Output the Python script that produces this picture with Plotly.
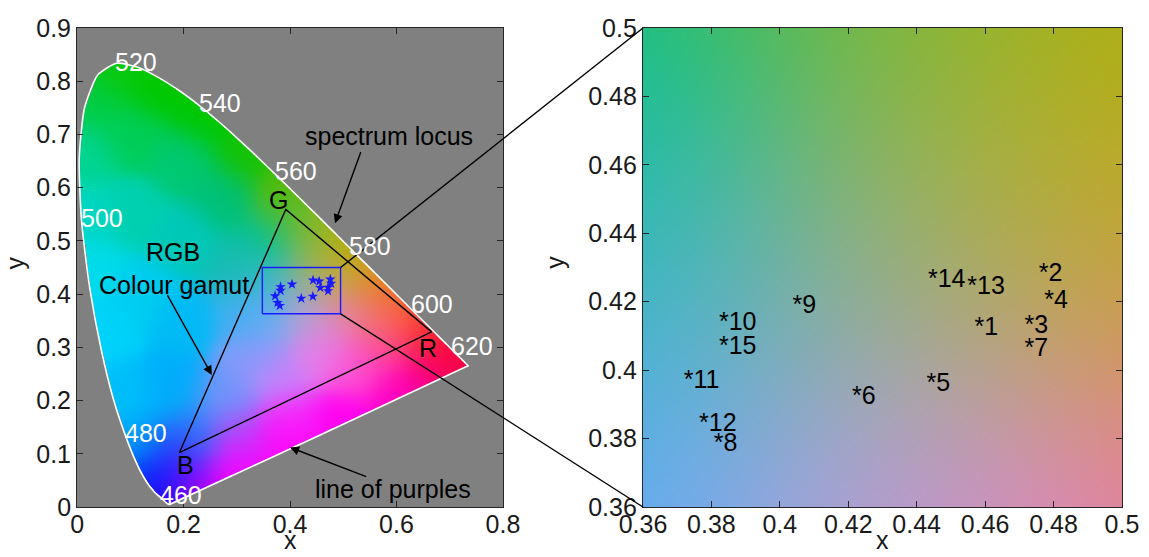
import numpy as np
import plotly.graph_objects as go

# ---------------- data ----------------
# CIE 1931 2-degree spectral locus (5 nm steps, 380-700 nm)
loc_x = [0.1741, 0.1740, 0.1738, 0.1736, 0.1733, 0.1730, 0.1726, 0.1721, 0.1714, 0.1703,
         0.1689, 0.1669, 0.1644, 0.1611, 0.1566, 0.1510, 0.1440, 0.1355, 0.1241, 0.1096,
         0.0913, 0.0687, 0.0454, 0.0235, 0.0082, 0.0039, 0.0139, 0.0389, 0.0743, 0.1142,
         0.1547, 0.1929, 0.2296, 0.2658, 0.3016, 0.3373, 0.3731, 0.4087, 0.4441, 0.4788,
         0.5125, 0.5448, 0.5752, 0.6029, 0.6270, 0.6482, 0.6658, 0.6801, 0.6915, 0.7006,
         0.7079, 0.7140, 0.7190, 0.7230, 0.7260, 0.7283, 0.7300, 0.7311, 0.7320, 0.7327,
         0.7334, 0.7340, 0.7344, 0.7346, 0.7347]
loc_y = [0.0050, 0.0050, 0.0049, 0.0049, 0.0048, 0.0048, 0.0048, 0.0048, 0.0051, 0.0058,
         0.0069, 0.0086, 0.0109, 0.0138, 0.0177, 0.0227, 0.0297, 0.0399, 0.0578, 0.0868,
         0.1327, 0.2007, 0.2950, 0.4127, 0.5384, 0.6548, 0.7502, 0.8120, 0.8338, 0.8262,
         0.8059, 0.7816, 0.7543, 0.7243, 0.6923, 0.6589, 0.6245, 0.5896, 0.5547, 0.5202,
         0.4866, 0.4544, 0.4242, 0.3965, 0.3725, 0.3514, 0.3340, 0.3197, 0.3083, 0.2993,
         0.2920, 0.2859, 0.2809, 0.2770, 0.2740, 0.2717, 0.2700, 0.2689, 0.2680, 0.2673,
         0.2666, 0.2660, 0.2656, 0.2654, 0.2653]

# wavelength labels
wl_text = ["520", "540", "560", "580", "600", "620", "500", "480", "460"]
wl_x = [0.110, 0.268, 0.412, 0.551, 0.666, 0.742, 0.046, 0.129, 0.196]
wl_y = [0.837, 0.760, 0.631, 0.491, 0.381, 0.303, 0.543, 0.139, 0.023]

# RGB gamut primaries (R, G, B) and their labels
gam_x = [0.666, 0.392, 0.192]
gam_y = [0.329, 0.559, 0.102]
gam_text = ["R", "G", "B"]
gam_lab_x = [0.660, 0.378, 0.204]
gam_lab_y = [0.298, 0.576, 0.078]

# measured chromaticities
pt_id = list(range(1, 16))
pt_x = [0.4569, 0.4757, 0.4715, 0.4773, 0.4429, 0.4211, 0.4715, 0.3807,
        0.4037, 0.3822, 0.3719, 0.3764, 0.4548, 0.4433, 0.3822]
pt_y = [0.4121, 0.4279, 0.4126, 0.4201, 0.3956, 0.3920, 0.4060, 0.3783,
        0.4185, 0.4136, 0.3965, 0.3840, 0.4240, 0.4261, 0.4066]

# zoom rectangle as drawn on the left panel
rect_x = [0.348, 0.495]
rect_y = [0.363, 0.450]

# zoomed panel range
zoom_rng = [0.36, 0.50]
zoom_ticks = [0.36, 0.38, 0.40, 0.42, 0.44, 0.46, 0.48, 0.50]
zoom_ticktext = ["0.36", "0.38", "0.4", "0.42", "0.44", "0.46", "0.48", "0.5"]
left_xticks = [0, 0.2, 0.4, 0.6, 0.8]
left_xticktext = ["0", "0.2", "0.4", "0.6", "0.8"]
left_yticks = [0, 0.1, 0.2, 0.3, 0.4, 0.5, 0.6, 0.7, 0.8, 0.9]
left_yticktext = ["0", "0.1", "0.2", "0.3", "0.4", "0.5", "0.6", "0.7", "0.8", "0.9"]

# text annotations (black)
note_text = ["spectrum locus", "RGB", "Colour gamut", "line of purples"]
note_x = [0.586, 0.180, 0.182, 0.594]
note_y = [0.697, 0.480, 0.418, 0.033]

# arrows: tip and tail
arr_tip_x = [0.4845, 0.253, 0.400]
arr_tip_y = [0.533, 0.248, 0.112]
arr_tail_x = [0.534, 0.168, 0.546]
arr_tail_y = [0.670, 0.401, 0.056]

# colour anchors (x, y, r, g, b)
anc_x = [0.075, 0.15, 0.24, 0.32, 0.39, 0.45, 0.51, 0.56, 0.61, 0.66, 0.71,
         0.035, 0.015, 0.015, 0.025, 0.05, 0.085, 0.12, 0.145, 0.165,
         0.22, 0.30, 0.40, 0.50, 0.60, 0.66,
         0.10, 0.10, 0.20, 0.20, 0.28, 0.30, 0.12, 0.20, 0.18, 0.22, 0.19,
         0.28, 0.33, 0.38, 0.30, 0.40, 0.46, 0.52, 0.58, 0.56,
         0.36, 0.43, 0.50, 0.36, 0.43, 0.50, 0.36, 0.43, 0.50, 0.31, 0.47, 0.40]
anc_y = [0.82, 0.79, 0.73, 0.66, 0.59, 0.53, 0.47, 0.42, 0.37, 0.32, 0.275,
         0.76, 0.66, 0.55, 0.45, 0.33, 0.21, 0.12, 0.06, 0.02,
         0.035, 0.07, 0.11, 0.16, 0.21, 0.24,
         0.70, 0.55, 0.65, 0.50, 0.58, 0.45, 0.40, 0.35, 0.22, 0.13, 0.09,
         0.20, 0.28, 0.24, 0.13, 0.16, 0.29, 0.26, 0.30, 0.36,
         0.50, 0.50, 0.50, 0.43, 0.43, 0.43, 0.36, 0.36, 0.36, 0.37, 0.47, 0.55]
anc_r = [10, 0, 0, 20, 90, 160, 200, 230, 250, 250, 245,
         0, 0, 0, 0, 0, 0, 0, 0, 30,
         190, 250, 255, 255, 255, 250,
         0, 0, 0, 0, 0, 20, 0, 0, 0, 40, 60,
         110, 130, 200, 190, 245, 230, 255, 255, 240,
         0, 100, 168, 60, 145, 205, 110, 182, 228, 60, 172, 80]
anc_g = [200, 200, 200, 195, 185, 180, 165, 130, 90, 40, 0,
         205, 212, 215, 220, 210, 190, 165, 40, 0,
         0, 0, 0, 0, 0, 0,
         205, 208, 200, 200, 192, 188, 205, 185, 172, 130, 30,
         150, 155, 130, 60, 40, 125, 80, 70, 120,
         195, 185, 180, 183, 173, 162, 172, 160, 130, 175, 178, 188]
anc_b = [10, 0, 0, 0, 0, 0, 0, 20, 40, 50, 60,
         70, 145, 195, 235, 250, 250, 250, 250, 250,
         250, 255, 250, 240, 200, 130,
         85, 175, 115, 185, 120, 175, 240, 245, 250, 250, 250,
         250, 250, 250, 250, 250, 235, 210, 150, 120,
         145, 105, 0, 198, 150, 100, 245, 212, 172, 240, 60, 60]

GRAY = 128


def colour_field(X, Y, sigma=0.037):
    ax = np.array(anc_x)
    ay = np.array(anc_y)
    cols = np.stack([anc_r, anc_g, anc_b], axis=1).astype(float)
    out = np.zeros(X.shape + (3,))
    for i in range(X.shape[0]):
        d2 = (X[i][:, None] - ax[None, :]) ** 2 + (Y[i][:, None] - ay[None, :]) ** 2
        w = np.exp(-d2 / (2 * sigma ** 2)) + 1e-300
        w = w / w.sum(axis=1, keepdims=True)
        out[i] = w @ cols
    return np.clip(out, 0, 255)


def inside_polygon(px, py, vx, vy):
    res = np.zeros(px.shape, dtype=bool)
    n = len(vx)
    j = n - 1
    for i in range(n):
        xi, yi, xj, yj = vx[i], vy[i], vx[j], vy[j]
        if yi != yj:
            cond = ((yi > py) != (yj > py)) & (px < (xj - xi) * (py - yi) / (yj - yi) + xi)
            res ^= cond
        j = i
    return res


# left image
step = 0.002
xs = np.arange(0, 0.8 + 1e-9, step)
ys = np.arange(0, 0.9 + 1e-9, step)
XX, YY = np.meshgrid(xs, ys)
img_left = colour_field(XX, YY)
mask = inside_polygon(XX, YY, loc_x, loc_y)
img_left[~mask] = GRAY
img_left = np.round(img_left).astype(int)

# right image
zstep = 0.0005
zxs = np.arange(zoom_rng[0], zoom_rng[1] + 1e-9, zstep)
zys = np.arange(zoom_rng[0], zoom_rng[1] + 1e-9, zstep)
ZX, ZY = np.meshgrid(zxs, zys)
img_right = np.round(colour_field(ZX, ZY)).astype(int)

FONT = "Liberation Sans, Arial, sans-serif"
FS = 25
TXT = "#1a1a1a"

fig = go.Figure()
fig.add_trace(go.Image(z=img_left.tolist(), x0=float(xs[0]), dx=step, y0=float(ys[0]), dy=step,
                       xaxis="x", yaxis="y", hoverinfo="skip"))
fig.add_trace(go.Image(z=img_right.tolist(), x0=float(zxs[0]), dx=zstep, y0=float(zys[0]), dy=zstep,
                       xaxis="x2", yaxis="y2", hoverinfo="skip"))

# spectrum locus outline (closed with line of purples)
fig.add_trace(go.Scatter(x=loc_x + [loc_x[0]], y=loc_y + [loc_y[0]], mode="lines",
                         line=dict(color="white", width=1.6, shape="spline", smoothing=0.6),
                         xaxis="x", yaxis="y", showlegend=False, hoverinfo="skip"))
# gamut triangle
fig.add_trace(go.Scatter(x=gam_x + [gam_x[0]], y=gam_y + [gam_y[0]], mode="lines",
                         line=dict(color="black", width=1.4), xaxis="x", yaxis="y",
                         showlegend=False, hoverinfo="skip"))
# zoom rectangle
fig.add_trace(go.Scatter(x=[rect_x[0], rect_x[1], rect_x[1], rect_x[0], rect_x[0]],
                         y=[rect_y[0], rect_y[0], rect_y[1], rect_y[1], rect_y[0]],
                         mode="lines", line=dict(color="#1a1aff", width=1.4),
                         xaxis="x", yaxis="y", showlegend=False, hoverinfo="skip"))
# stars on left panel
fig.add_trace(go.Scatter(x=pt_x, y=pt_y, mode="markers",
                         marker=dict(symbol="star", size=8, color="#1a1aff", line=dict(width=0)),
                         xaxis="x", yaxis="y", showlegend=False, hoverinfo="skip"))
# labels on right panel
fig.add_trace(go.Scatter(x=pt_x, y=pt_y, mode="text", text=["*" + str(i) for i in pt_id],
                         textposition="middle right",
                         textfont=dict(family=FONT, size=FS, color="black"),
                         xaxis="x2", yaxis="y2", showlegend=False, hoverinfo="skip"))

annotations = []
for t, x, y in zip(wl_text, wl_x, wl_y):
    annotations.append(dict(x=x, y=y, xref="x", yref="y", text=t, showarrow=False,
                            font=dict(family=FONT, size=FS, color="white"),
                            xanchor="center", yanchor="middle"))
for t, x, y in zip(gam_text, gam_lab_x, gam_lab_y):
    annotations.append(dict(x=x, y=y, xref="x", yref="y", text=t, showarrow=False,
                            font=dict(family=FONT, size=FS, color="black"),
                            xanchor="center", yanchor="middle"))
for t, x, y in zip(note_text, note_x, note_y):
    annotations.append(dict(x=x, y=y, xref="x", yref="y", text=t, showarrow=False,
                            font=dict(family=FONT, size=FS, color="black"),
                            xanchor="center", yanchor="middle"))
for tx, ty, sx, sy in zip(arr_tip_x, arr_tip_y, arr_tail_x, arr_tail_y):
    annotations.append(dict(x=tx, y=ty, ax=sx, ay=sy, xref="x", yref="y", axref="x", ayref="y",
                            text="", showarrow=True, arrowhead=2, arrowsize=1.3,
                            arrowwidth=1.4, arrowcolor="black"))

# layout geometry
L_DOM = [0.0, 0.4077]
R_DOM = [0.5416, 1.0]

# axis titles (placed as paper annotations so they sit where the reference has them)
for dom in (L_DOM, R_DOM):
    annotations.append(dict(x=(dom[0] + dom[1]) / 2, y=-0.1025, xref="paper", yref="paper",
                            text="x", showarrow=False, xanchor="center", yanchor="bottom",
                            font=dict(family=FONT, size=FS, color=TXT)))
for xp in (-0.0595, 0.4575):
    annotations.append(dict(x=xp, y=0.51, xref="paper", yref="paper", text="y",
                            showarrow=False, textangle=-90, xanchor="center", yanchor="middle",
                            font=dict(family=FONT, size=FS, color=TXT)))


def left_to_paper(x, y):
    return L_DOM[0] + x / 0.8 * (L_DOM[1] - L_DOM[0]), y / 0.9


def right_to_paper(x, y):
    return (R_DOM[0] + (x - zoom_rng[0]) / (zoom_rng[1] - zoom_rng[0]) * (R_DOM[1] - R_DOM[0]),
            (y - zoom_rng[0]) / (zoom_rng[1] - zoom_rng[0]))


shapes = []
for (lx, ly), (rx, ry) in [((rect_x[1], rect_y[1]), (zoom_rng[0], zoom_rng[1])),
                           ((rect_x[1], rect_y[0]), (zoom_rng[0], zoom_rng[0]))]:
    p0 = left_to_paper(lx, ly)
    p1 = right_to_paper(rx, ry)
    shapes.append(dict(type="line", xref="paper", yref="paper", x0=p0[0], y0=p0[1],
                       x1=p1[0], y1=p1[1], line=dict(color="black", width=1.4), layer="above"))

axis_common = dict(showgrid=False, zeroline=False, showline=True, mirror="ticks",
                   linecolor="#262626", linewidth=1.2, ticks="inside", ticklen=6,
                   tickcolor="#262626", automargin=False,
                   tickfont=dict(family=FONT, size=FS, color=TXT))

fig.update_layout(
    width=1149, height=557,
    margin=dict(l=77, r=27, t=28, b=50),
    paper_bgcolor="white",
    plot_bgcolor="rgb(128,128,128)",
    showlegend=False,
    xaxis=dict(domain=L_DOM, range=[0, 0.8], tickvals=left_xticks, ticktext=left_xticktext,
               anchor="y", ticklabelstandoff=-5, **axis_common),
    yaxis=dict(domain=[0, 1], range=[0, 0.9], tickvals=left_yticks, ticktext=left_yticktext,
               anchor="x", autorange=False, **axis_common),
    xaxis2=dict(domain=R_DOM, range=zoom_rng, tickvals=zoom_ticks, ticktext=zoom_ticktext,
                anchor="y2", ticklabelstandoff=-5, **axis_common),
    yaxis2=dict(domain=[0, 1], range=zoom_rng, tickvals=zoom_ticks, ticktext=zoom_ticktext,
                anchor="x2", autorange=False, **axis_common),
    annotations=annotations,
    shapes=shapes,
)

fig.write_html("out.html")
